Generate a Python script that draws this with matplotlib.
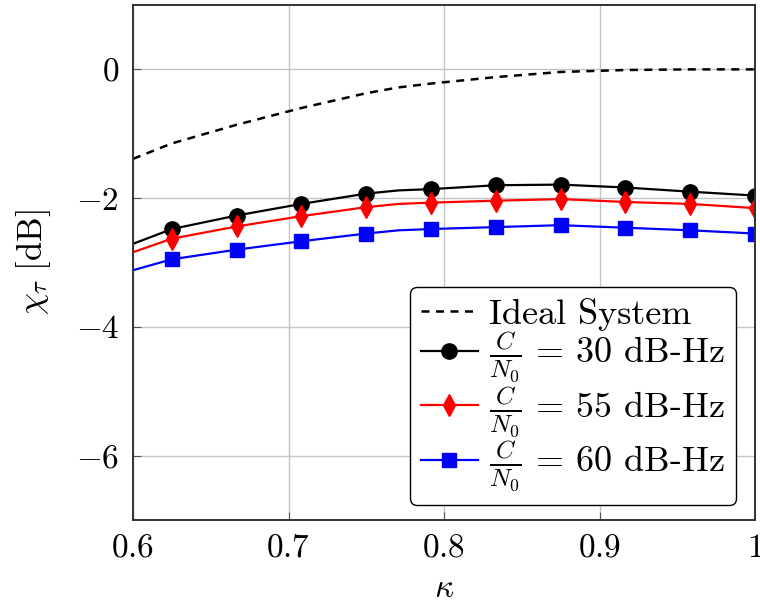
import matplotlib
matplotlib.use("Agg")
import matplotlib.pyplot as plt

plt.rcParams["font.family"] = ["cmr10", "DejaVu Serif"]
plt.rcParams["mathtext.fontset"] = "cm"
plt.rcParams["axes.formatter.use_mathtext"] = True

# kappa sample points; markers sit on every point except the first and the 0.7708 knot
kappa = [0.6, 0.625, 0.6667, 0.7083, 0.75, 0.7708, 0.7917, 0.8333, 0.875, 0.9167, 0.9583, 1.0]
marker_idx = [1, 2, 3, 4, 6, 7, 8, 9, 10, 11]

ideal = [-1.39, -1.15, -0.86, -0.60, -0.37, -0.28, -0.22, -0.12, -0.04, -0.01, 0.0, 0.0]
cn0_30 = [-2.71, -2.48, -2.27, -2.09, -1.93, -1.88, -1.86, -1.80, -1.79, -1.835, -1.90, -1.96]
cn0_55 = [-2.84, -2.63, -2.44, -2.28, -2.14, -2.09, -2.07, -2.04, -2.015, -2.06, -2.09, -2.155]
cn0_60 = [-3.12, -2.95, -2.80, -2.67, -2.55, -2.50, -2.48, -2.45, -2.42, -2.46, -2.50, -2.55]

x_ticks = [0.6, 0.7, 0.8, 0.9, 1.0]
x_labels = [r"$0.6$", r"$0.7$", r"$0.8$", r"$0.9$", r"$1$"]
y_ticks = [-6, -4, -2, 0]
y_labels = [r"$-6$", r"$-4$", r"$-2$", r"$0$"]

fig = plt.figure(figsize=(7.6, 6.13), dpi=100)
ax = fig.add_axes([133 / 760, 93 / 613, 622 / 760, 515 / 613])

ax.plot(kappa, ideal, color="black", lw=1.8, ls=(0, (3.2, 2.6)), label="Ideal System")
ax.plot(kappa, cn0_30, color="black", lw=1.6, marker="o", ms=11,
        markevery=marker_idx, label=r"$\frac{C}{N_0}\,=\,30$ dB-Hz")
ax.plot(kappa, cn0_55, color="red", lw=1.6, marker="d", ms=11,
        markevery=marker_idx, label=r"$\frac{C}{N_0}\,=\,55$ dB-Hz")
ax.plot(kappa, cn0_60, color="blue", lw=1.6, marker="s", ms=10,
        markevery=marker_idx, label=r"$\frac{C}{N_0}\,=\,60$ dB-Hz")

ax.set_xlim(0.6, 1.0)
ax.set_ylim(-7, 1)
ax.set_xticks(x_ticks)
ax.set_xticklabels(x_labels)
ax.set_yticks(y_ticks)
ax.set_yticklabels(y_labels)
ax.tick_params(direction="in", length=6, width=0.8, color="#555555",
               labelsize=24, pad=10)
ax.grid(True, color="#c4c4c4", lw=1.0)
ax.set_axisbelow(True)
for sp in ax.spines.values():
    sp.set_color("#333333")
    sp.set_linewidth(1.4)

ax.set_xlabel(r"$\kappa$", fontsize=24, labelpad=8)
ax.set_ylabel(r"$\chi_\tau\ [\mathrm{dB}]$", fontsize=25, labelpad=16)

leg = ax.legend(loc="lower right", bbox_to_anchor=(0.9695, 0.029), borderaxespad=0,
                fontsize=26, fancybox=True, framealpha=1, edgecolor="black",
                handlelength=1.6, handletextpad=0.3, labelspacing=-0.02,
                borderpad=0.3)
leg.get_frame().set_linewidth(1.0)

fig.savefig("out.png", dpi=100)
